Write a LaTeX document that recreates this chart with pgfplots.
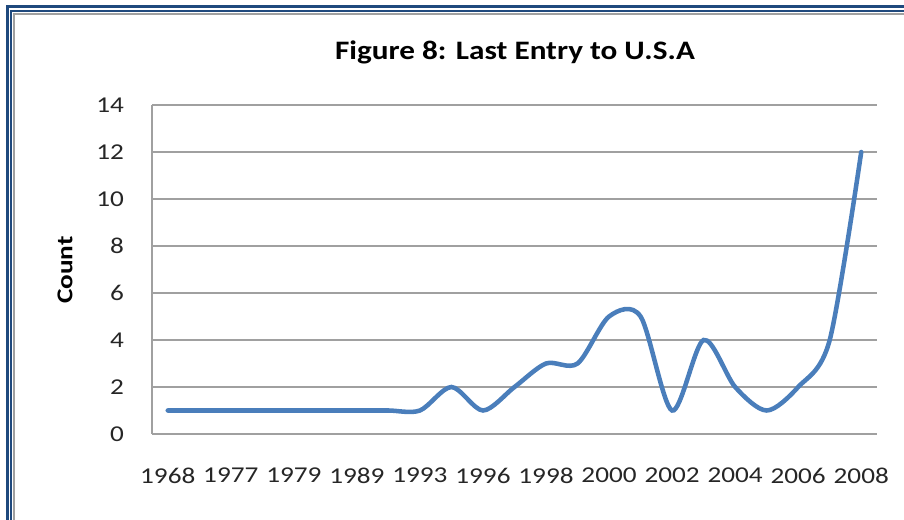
\documentclass[border=0pt]{standalone}
\usepackage{pgfplots}
\pgfplotsset{compat=1.18}
\usepackage{fontspec}
\setmainfont{Carlito}
\definecolor{lineblue}{HTML}{4A7EBB}
\definecolor{frameblue}{RGB}{31,73,125}
\definecolor{gridgray}{HTML}{A0A0A0}
\begin{document}
\begin{tikzpicture}[x=0.75pt,y=0.75pt]
% page is 904 x 520 px, 1px = 0.75pt, y counted from the bottom
\path[use as bounding box] (0,0) rectangle (904,520);
% frame: thick blue, thin blue, grey (left and top only)
\fill[frameblue] (5.5,0) rectangle (8.5,514.5);
\fill[frameblue] (5.5,511.5) rectangle (904,514.5);
\fill[frameblue] (10.2,0) rectangle (11.7,509.8);
\fill[frameblue] (10.2,508.3) rectangle (904,509.8);
\fill[gridgray] (13.2,0) rectangle (14.7,506.8);
\fill[gridgray] (13.2,505.3) rectangle (904,506.8);
\begin{axis}[
	at={(114pt,64.5pt)}, anchor=south west,
	scale only axis,
	width=543.75pt, height=246.75pt,
	xmin=-0.5, xmax=22.5,
	ymin=0, ymax=14,
	xtick={0,2,...,22},
	xticklabels={1968,1977,1979,1989,1993,1996,1998,2000,2002,2004,2006,2008},
	ytick={0,2,...,14},
	axis x line*=bottom, axis y line*=left,
	axis line style={gridgray, line width=1pt, -},
	major tick length=0pt,
	ymajorgrids,
	major grid style={gridgray, line width=1pt},
	tick label style={font=\fontsize{17}{20}\selectfont, black!85, xscale=1.2},
	/pgf/number format/assume math mode=true,
	xticklabel style={yshift=-22pt},
	yticklabel style={xshift=-14pt},
]
\addplot[lineblue, line width=3.4pt, smooth, tension=0.5, line cap=round] coordinates {
(0,1) (1,1) (2,1) (3,1) (4,1) (5,1) (6,1) (7,1)
(8,1) (9,2) (10,1) (11,2) (12,3) (13,3) (14,5) (15,5)
(16,1) (17,4) (18,2) (19,1) (20,2) (21,4) (22,12)};
\end{axis}
\node[anchor=base, font=\fontsize{20}{24}\selectfont\bfseries] at (515,460) {\scalebox{1.17}[1]{Figure 8: Last Entry to U.S.A}};
\node[rotate=90, font=\fontsize{17}{20}\selectfont\bfseries] at (65,250) {\scalebox{1.2}[1]{Count}};
\end{tikzpicture}
\end{document}
